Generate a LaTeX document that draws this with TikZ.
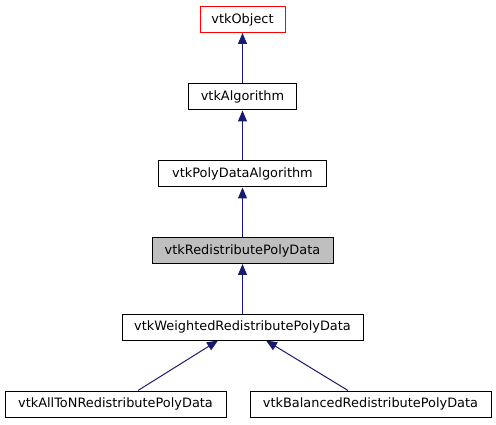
\documentclass[tikz,border=0pt]{standalone}
\usepackage{fontspec}
\setmainfont{DejaVu Sans}
\usetikzlibrary{arrows.meta}

\definecolor{edgeblue}{RGB}{25,25,112}
\definecolor{curgray}{RGB}{191,191,191}

\tikzset{
  cls/.style={draw=black, line width=1pt, inner sep=0pt, minimum height=26pt,
    font=\fontsize{12.9pt}{15pt}\selectfont, anchor=center},
  inh/.style={draw=edgeblue, line width=1pt, -{Triangle[length=11pt,width=9pt]}}
}

\begin{document}
\begin{tikzpicture}[x=1pt, y=-1pt]
  \useasboundingbox (0,0) rectangle (496,425);

  % classes
  \node[cls, draw=red, minimum width=85pt]  (obj)  at (242.5,19.5) {vtkObject};
  \node[cls, minimum width=108pt] (alg)  at (242.5,97)  {vtkAlgorithm};
  \node[cls, minimum width=168pt] (pda)  at (242.5,174) {vtkPolyDataAlgorithm};
  \node[cls, fill=curgray, minimum width=181pt] (rpd) at (242.5,250.5) {vtkRedistributePolyData};
  \node[cls, minimum width=241pt] (wrpd) at (242.5,327) {vtkWeightedRedistributePolyData};
  \node[cls, minimum width=221pt] (aton) at (115.5,404) {vtkAllToNRedistributePolyData};
  \node[cls, minimum width=241pt] (brpd) at (370.5,404) {vtkBalancedRedistributePolyData};

  % inheritance
  \draw[inh] (alg) -- (obj);
  \draw[inh] (pda) -- (alg);
  \draw[inh] (rpd) -- (pda);
  \draw[inh] (wrpd) -- (rpd);
  \draw[inh] (aton.north -| 138,0) -- (wrpd.south -| 218,0);
  \draw[inh] (brpd.north -| 348,0) -- (wrpd.south -| 266,0);
\end{tikzpicture}
\end{document}
